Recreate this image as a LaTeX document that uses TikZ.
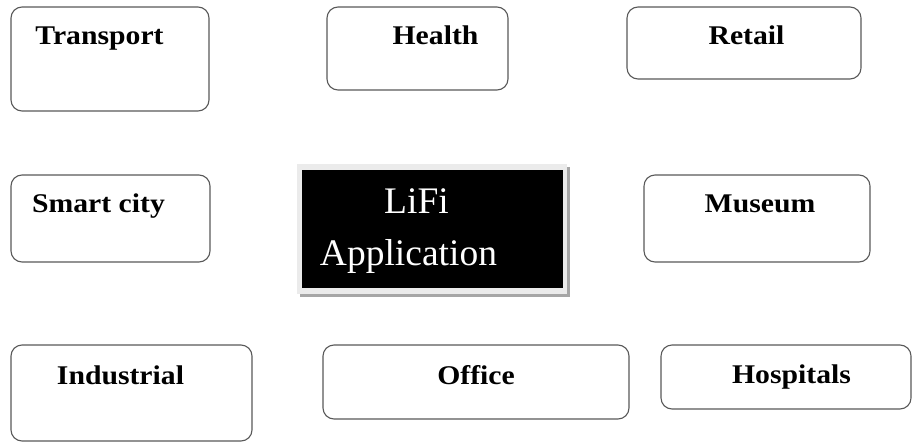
\documentclass[tikz,border=0pt]{standalone}
\usepackage{fontspec}
\setmainfont{Liberation Serif}
\newfontfamily\boxfont[FakeStretch=1.1]{Liberation Serif Bold}
\newfontfamily\hubfont{Liberation Serif}
\begin{document}
\begin{tikzpicture}[x=1pt,y=-1pt,
        appbox/.style={draw=black!65,line width=1.1pt,rounded corners=11pt,fill=white,inner sep=0pt},
        apptext/.style={anchor=base,inner sep=0pt,font=\boxfont\fontsize{27}{31}\selectfont},
        hubtext/.style={anchor=base,inner sep=0pt,text=white,font=\hubfont\fontsize{37.5}{43}\selectfont}]
    \useasboundingbox (0,0) rectangle (912,444);
    %% top row
    \node[appbox,minimum width=198pt,minimum height=104pt] (transport) at (110,59) {};
    \node[apptext] (transportlabel) at (99.5,45) {Transport};
    \node[appbox,minimum width=181pt,minimum height=83pt] (health) at (417.5,48.5) {};
    \node[apptext] (healthlabel) at (435.5,45) {Health};
    \node[appbox,minimum width=234pt,minimum height=72pt] (retail) at (744,43) {};
    \node[apptext] (retaillabel) at (746.5,45) {Retail};
    %% middle row
    \node[appbox,minimum width=199pt,minimum height=87pt] (smartcity) at (110.5,218.5) {};
    \node[apptext] (smartcitylabel) at (98.5,212) {Smart city};
    \node[appbox,minimum width=226pt,minimum height=87pt] (museum) at (757,218.5) {};
    \node[apptext] (museumlabel) at (760,212) {Museum};
    %% LiFi box with frame and shadow
    \fill[black!35] (300,167) rectangle (570,297);
    \fill[black!8] (297,164) rectangle (567,294);
    \node[fill=black,inner sep=0pt,minimum width=261pt,minimum height=118pt] (lifi) at (432.5,229) {};
    \node[hubtext] (lifilabel) at (416.5,213) {LiFi};
    \node[hubtext] (applicationlabel) at (408.5,265) {Application};
    %% bottom row
    \node[appbox,minimum width=241pt,minimum height=96pt] (industrial) at (131.5,393) {};
    \node[apptext] (industriallabel) at (120.5,384) {Industrial};
    \node[appbox,minimum width=306pt,minimum height=74pt] (office) at (476,382) {};
    \node[apptext] (officelabel) at (476,384) {Office};
    \node[appbox,minimum width=250pt,minimum height=64pt] (hospitals) at (786,377) {};
    \node[apptext] (hospitalslabel) at (791.5,383) {Hospitals};
\end{tikzpicture}
\end{document}
